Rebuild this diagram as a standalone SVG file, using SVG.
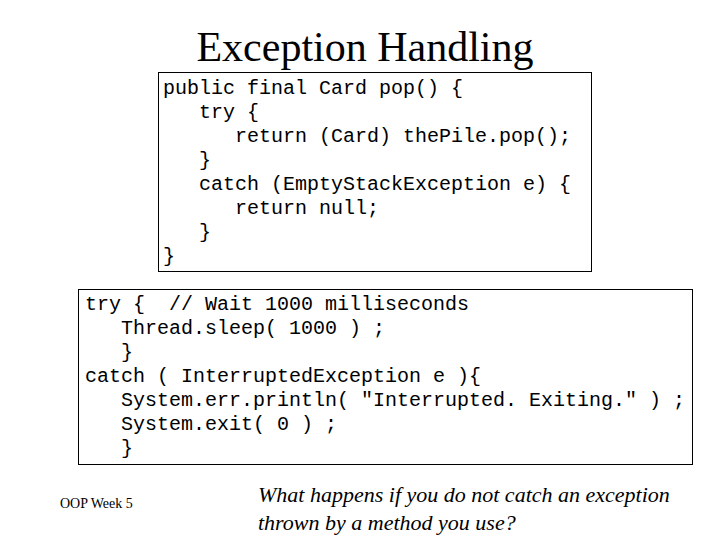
<svg xmlns="http://www.w3.org/2000/svg" width="720" height="540" viewBox="0 0 720 540">
<style>
.c{font-family:"Liberation Mono","Courier New",monospace;font-size:20px;fill:#000;white-space:pre}
.box{fill:#fff;stroke:#000;stroke-width:1}
</style>
<rect width="720" height="540" fill="#fff"/>
<text x="365" y="61" text-anchor="middle" font-family="Liberation Serif,serif" font-size="42">Exception Handling</text>
<g id="box1">
<rect class="box" x="158.5" y="72.5" width="433" height="199"/>
<text class="c" xml:space="preserve"><tspan x="163" y="94">public final Card pop() {</tspan><tspan x="163" y="118">   try {</tspan><tspan x="163" y="142">      return (Card) thePile.pop();</tspan><tspan x="163" y="166">   }</tspan><tspan x="163" y="190">   catch (EmptyStackException e) {</tspan><tspan x="163" y="214">      return null;</tspan><tspan x="163" y="238">   }</tspan><tspan x="163" y="262">}</tspan></text>
</g>
<g id="box2">
<rect class="box" x="78.5" y="289.5" width="614" height="175"/>
<text class="c" xml:space="preserve"><tspan x="85" y="310">try {  // Wait 1000 milliseconds</tspan><tspan x="85" y="334">   Thread.sleep( 1000 ) ;</tspan><tspan x="85" y="358">   }</tspan><tspan x="85" y="382">catch ( InterruptedException e ){</tspan><tspan x="85" y="406">   System.err.println( "Interrupted. Exiting." ) ;</tspan><tspan x="85" y="430">   System.exit( 0 ) ;</tspan><tspan x="85" y="454">   }</tspan></text>
</g>
<text x="60" y="508" font-family="Liberation Serif,serif" font-size="14">OOP Week 5</text>
<text font-family="Liberation Serif,serif" font-size="22" font-style="italic"><tspan x="258" y="502">What happens if you do not catch an exception</tspan><tspan x="258" y="530">thrown by a method you use?</tspan></text>
</svg>
